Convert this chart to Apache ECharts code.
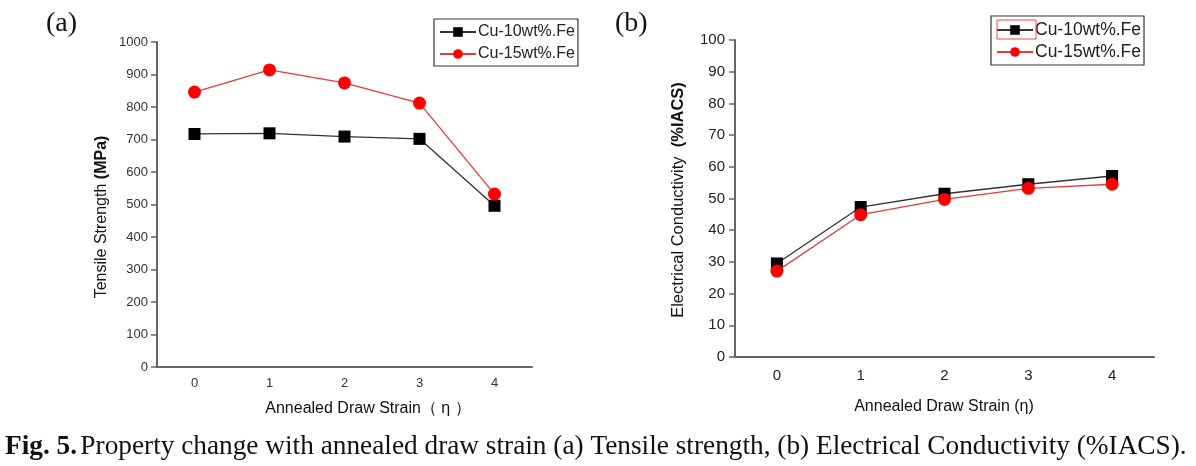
<!DOCTYPE html>
<html><head><meta charset="utf-8">
<script src="https://cdn.jsdelivr.net/npm/echarts@6/dist/echarts.min.js"></script>
<style>html,body{margin:0;padding:0;background:#fff}#c{width:1196px;height:466px}</style>
</head><body><div id="c"></div>
<script>
const strainCategories = ['0','1','2','3','4'];
const tensileCu10 = [717, 719, 709, 702, 496];
const tensileCu15 = [846, 914, 874, 812, 532];
const condCu10 = [29.5, 47.3, 51.5, 54.5, 57.1];
const condCu15 = [27.1, 44.9, 49.7, 53.2, 54.5];
const tensileTicks = {min: 0, max: 1000, interval: 100};
const condTicks = {min: 0, max: 100, interval: 10};
const seriesNames = ['Cu-10wt%.Fe', 'Cu-15wt%.Fe'];

const chart = echarts.init(document.getElementById('c'));
const axisCol = '#666';
const fontA = {color: '#333', fontFamily: 'Liberation Sans, Arial', fontSize: 13};
const fontB = {color: '#222', fontFamily: 'Liberation Sans, Arial', fontSize: 15};

function xAxis(idx, font, margin) {
  return {
    type: 'category', gridIndex: idx, data: strainCategories, boundaryGap: true,
    axisLine: {lineStyle: {color: axisCol, width: 2}},
    axisTick: {alignWithLabel: true, length: 6, lineStyle: {color: axisCol, width: 1.5}},
    axisLabel: Object.assign({margin: margin}, font),
    splitLine: {show: false}
  };
}
function yAxis(idx, t, font, margin) {
  return {
    type: 'value', gridIndex: idx, min: t.min, max: t.max, interval: t.interval,
    axisLine: {show: true, lineStyle: {color: axisCol, width: 2}},
    axisTick: {show: true, length: 6, lineStyle: {color: axisCol, width: 1.5}},
    axisLabel: Object.assign({margin: margin, formatter: v => String(v)}, font),
    splitLine: {show: false}
  };
}
function blackSeries(x, y, data) {
  return {name: seriesNames[0], type: 'line', xAxisIndex: x, yAxisIndex: y, data: data,
    symbol: 'rect', symbolSize: 12, itemStyle: {color: '#000'},
    lineStyle: {color: '#333', width: 1.3}, z: 3};
}
function redSeries(x, y, data) {
  return {name: seriesNames[1], type: 'line', xAxisIndex: x, yAxisIndex: y, data: data,
    symbol: 'circle', symbolSize: 13, itemStyle: {color: '#ff0000'},
    lineStyle: {color: '#e83a3a', width: 1.3}, z: 4};
}
const legendBase = {
  orient: 'vertical', itemWidth: 36, itemHeight: 12, itemGap: 6,
  borderColor: '#333', borderWidth: 1.2, padding: [5, 3, 4, 5],
  textStyle: {color: '#222', fontFamily: 'Liberation Sans, Arial', fontSize: 16, padding: [0,0,0,-3]},
  backgroundColor: '#fff'
};
const serif = '"Liberation Serif", "Times New Roman", serif';
const sans = '"Liberation Sans", Arial, sans-serif';

chart.setOption({
  animation: false,
  grid: [
    {left: 157, right: 664, top: 42, bottom: 99},
    {left: 735, right: 42, top: 40, bottom: 109}
  ],
  xAxis: [xAxis(0, fontA, 10), xAxis(1, fontB, 11)],
  yAxis: [yAxis(0, tensileTicks, fontA, 9), yAxis(1, condTicks, fontB, 10)],
  legend: [
    Object.assign({}, legendBase, {left: 434, top: 19, data: seriesNames}),
    Object.assign({}, legendBase, {left: 991, top: 16, itemGap: 4, data: seriesNames,
      textStyle: Object.assign({}, legendBase.textStyle, {fontSize: 17.5})})
  ],
  series: [
    blackSeries(0, 0, tensileCu10), redSeries(0, 0, tensileCu15),
    blackSeries(1, 1, condCu10), redSeries(1, 1, condCu15)
  ],
  graphic: [
    {type: 'text', x: 46, y: 24, style: {text: '(a)', font: '28px ' + serif, fill: '#111', verticalAlign: 'middle'}},
    {type: 'text', x: 615, y: 24, style: {text: '(b)', font: '28px ' + serif, fill: '#111', verticalAlign: 'middle'}},
    {type: 'text', x: 102, y: 217, rotation: Math.PI / 2,
      style: {rich: {n: {font: '16px ' + sans, fill: '#111'}, b: {font: 'bold 16px ' + sans, fill: '#111'}},
        text: '{n|Tensile Strength }{b|(MPa)}', align: 'center', verticalAlign: 'middle'}},
    {type: 'text', x: 678, y: 200, rotation: Math.PI / 2,
      style: {rich: {n: {font: '16.5px ' + sans, fill: '#111'}, b: {font: 'bold 16.5px ' + sans, fill: '#111'}},
        text: '{n|Electrical Conductivity  }{b|(%IACS)}', align: 'center', verticalAlign: 'middle'}},
    {type: 'text', x: 368, y: 409, style: {text: 'Annealed Draw Strain（ η ）', font: '16px ' + sans, fill: '#111', align: 'center', verticalAlign: 'middle'}},
    {type: 'text', x: 944, y: 407, style: {text: 'Annealed Draw Strain (η)', font: '16px ' + sans, fill: '#111', align: 'center', verticalAlign: 'middle'}},
    {type: 'rect', shape: {x: 997, y: 20, width: 39, height: 19}, style: {fill: 'none', stroke: '#ff4040', lineWidth: 1}, z: 100},
    {type: 'text', x: 5, y: 447, style: {rich: {b: {font: 'bold 27.3px ' + serif, fill: '#111'}, n: {font: '27.3px ' + serif, fill: '#111'}},
      text: '{b|Fig. 5.} {n|Property change with annealed draw strain (a) Tensile strength, (b) Electrical Conductivity (%IACS).}', verticalAlign: 'middle'}}
  ]
});
</script></body></html>
